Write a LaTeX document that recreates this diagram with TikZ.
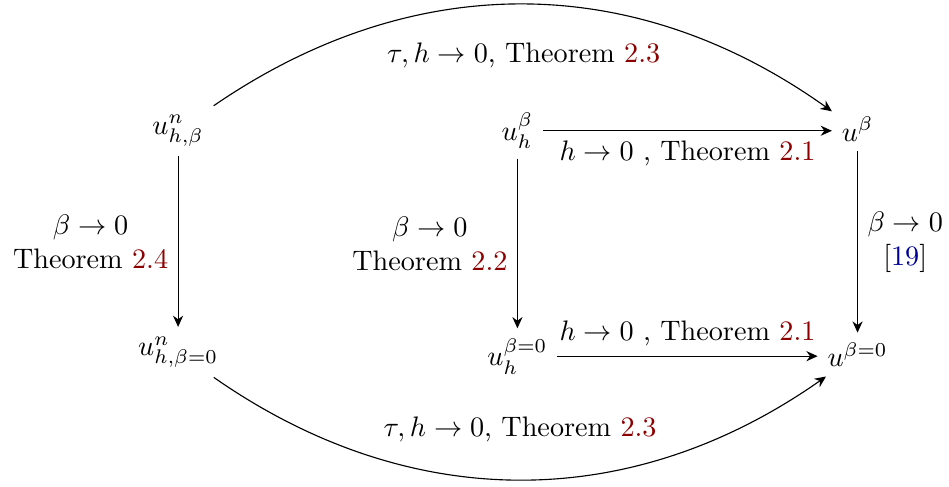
\documentclass[tikz,border=0pt]{standalone}
\usepackage{amsmath}
\usetikzlibrary{arrows.meta}
\definecolor{thmred}{rgb}{0.55,0,0}
\definecolor{citeblue}{rgb}{0,0,0.6}
\newcommand{\thmnum}[1]{\textcolor{thmred}{#1}}
\newcommand{\citenum}[1]{[\textcolor{citeblue}{#1}]}
\begin{document}
\begin{tikzpicture}[mapto/.style={-{Stealth[length=4pt, width=3.6pt]}, thin}]
  \useasboundingbox (0,0) rectangle (11.83,6.06);
  % discrete solutions (left column)
  \node (unb)  at (2.22,4.43) {$u^n_{h,\beta}$};
  \node (unb0) at (2.22,1.67) {$u^n_{h,\beta=0}$};
  % semi-discrete (middle column)
  \node (uhb)  at (6.45,4.43) {$u_h^{\beta}$};
  \node (uhb0) at (6.45,1.62) {$u_h^{\beta=0}$};
  % continuous (right column)
  \node (ub)   at (10.69,4.45) {$u^{\beta}$};
  \node (ub0)  at (10.69,1.64) {$u^{\beta=0}$};

  % vertical limits beta -> 0
  \draw[mapto] (unb.south) -- (unb0.north)
       node[midway, left, align=center] {$\beta\to 0$\\Theorem \thmnum{2.4}};
  \draw[mapto] (uhb.south) -- (uhb.south |- uhb0.north)
       node[midway, left, align=center] {$\beta\to 0$\\Theorem \thmnum{2.2}};
  \draw[mapto] (ub.south) -- (ub.south |- ub0.north)
       node[midway, right, align=center] {$\beta\to 0$\\\citenum{19}};

  % horizontal limits h -> 0
  \draw[mapto] (uhb.east) -- (uhb.east -| ub.west)
       node[midway, below] {$h\to 0$ , Theorem \thmnum{2.1}};
  \draw[mapto] (uhb0.east) -- (uhb0.east -| ub0.west)
       node[midway, above] {$h\to 0$ , Theorem \thmnum{2.1}};

  % full limits tau, h -> 0
  \draw[mapto] (unb) to[bend left=35]
       node[midway, below=10pt] {$\tau, h\to 0$, Theorem \thmnum{2.3}} (ub);
  \draw[mapto] (unb0) to[bend right=35]
       node[midway, above=10pt] {$\tau, h\to 0$, Theorem \thmnum{2.3}} (ub0);
\end{tikzpicture}
\end{document}
